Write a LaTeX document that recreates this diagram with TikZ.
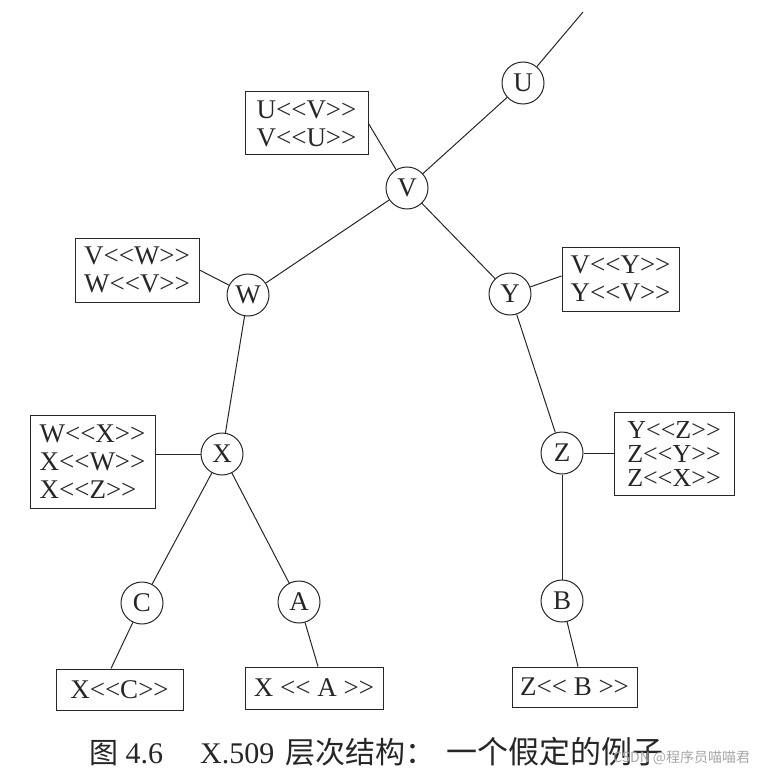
\documentclass[tikz,border=0pt]{standalone}
\usepackage{fontspec}
\setmainfont{Liberation Serif}
\newfontfamily\cjk{Noto Sans CJK SC}
\newfontfamily\wmfont{Noto Sans CJK SC}
\begin{document}
\begin{tikzpicture}[x=1pt,y=-1pt,
  cnode/.style={circle,draw=black!85,line width=1pt,minimum size=42pt,inner sep=0pt,text=black!85,font=\fontsize{27}{28}\selectfont},
  cbox/.style={draw=black!85,line width=1pt,inner sep=0pt,align=left,text=black!85,font=\fontsize{27}{28}\selectfont},
  link/.style={draw=black!85,line width=1pt},
  captext/.style={anchor=base west,inner sep=0pt,text=black!85}]
\useasboundingbox (0,0) rectangle (763,770);
% circles
\node[cnode] (U) at (523,83) {U};
\node[cnode] (V) at (407,188) {V};
\node[cnode] (W) at (248,295) {W};
\node[cnode] (Y) at (510,294) {Y};
\node[cnode] (X) at (222,454) {X};
\node[cnode] (Z) at (562,453) {Z};
\node[cnode] (C) at (142,603) {C};
\node[cnode] (A) at (299,602) {A};
\node[cnode] (B) at (562,601) {B};
\coordinate (top) at (583,12);
% boxes
\node[cbox,minimum width=123pt,minimum height=63pt] (buv) at (306.5,123.5) {U<{}<V>{}>\\V<{}<U>{}>};
\node[cbox,minimum width=124pt,minimum height=64pt] (bvw) at (137,270) {V<{}<W>{}>\\W<{}<V>{}>};
\node[cbox,minimum width=117pt,minimum height=64pt] (bvy) at (620.5,279) {V<{}<Y>{}>\\Y<{}<V>{}>};
\node[cbox,minimum width=120pt,minimum height=83pt,font=\fontsize{26}{24}\selectfont] (byz) at (674,453.5) {Y<{}<Z>{}>\\Z<{}<Y>{}>\\Z<{}<X>{}>};
\node[cbox,minimum width=125pt,minimum height=93pt] (bwx) at (92.5,461.5) {W<{}<X>{}>\\X<{}<W>{}>\\X<{}<Z>{}>};
\node[cbox,minimum width=127pt,minimum height=41pt] (bxc) at (119.5,689.5) {X<{}<C>{}>};
\node[cbox,minimum width=138pt,minimum height=42pt] (bxa) at (314,688) {X <{}< A >{}>};
\node[cbox,minimum width=125pt,minimum height=40pt] (bzb) at (574.5,687) {Z<{}< B >{}>};
% tree links
\draw[link] (top) -- (U);
\draw[link] (U) -- (V);
\draw[link] (V) -- (W);
\draw[link] (V) -- (Y);
\draw[link] (W) -- (X);
\draw[link] (Y) -- (Z);
\draw[link] (X) -- (C);
\draw[link] (X) -- (A);
\draw[link] (Z) -- (B);
% box links
\draw[link] (buv.east) -- (V);
\draw[link] (bvw.east) -- (W);
\draw[link] ([yshift=3pt]bvy.west) -- (Y);
\draw[link] (Z) -- (Z -| byz.west);
\draw[link] (X) -- (X -| bwx.east);
\draw[link] (C) -- ([xshift=-8.5pt]bxc.north);
\draw[link] (A) -- ([xshift=4pt]bxa.north);
\draw[link] (B) -- ([xshift=3.5pt]bzb.north);
% caption
\node[captext,font=\fontsize{30}{32}\selectfont] (cap1) at (89,763) {{\cjk\fontsize{29}{32}\selectfont 图} 4.6};
\node[captext,font=\fontsize{30}{32}\selectfont] (cap2) at (200,763) {X.509};
\node[captext,font=\cjk\fontsize{30}{32}\selectfont] (cap3) at (285,763) {层次结构：};
\node[captext,font=\cjk\fontsize{31}{32}\selectfont] (cap4) at (446,763) {一个假定的例子};
\node[captext,text=black!35,font=\wmfont\fontsize{14}{16}\selectfont] (wm) at (613,762) {CSDN @程序员喵喵君};
\end{tikzpicture}
\end{document}
